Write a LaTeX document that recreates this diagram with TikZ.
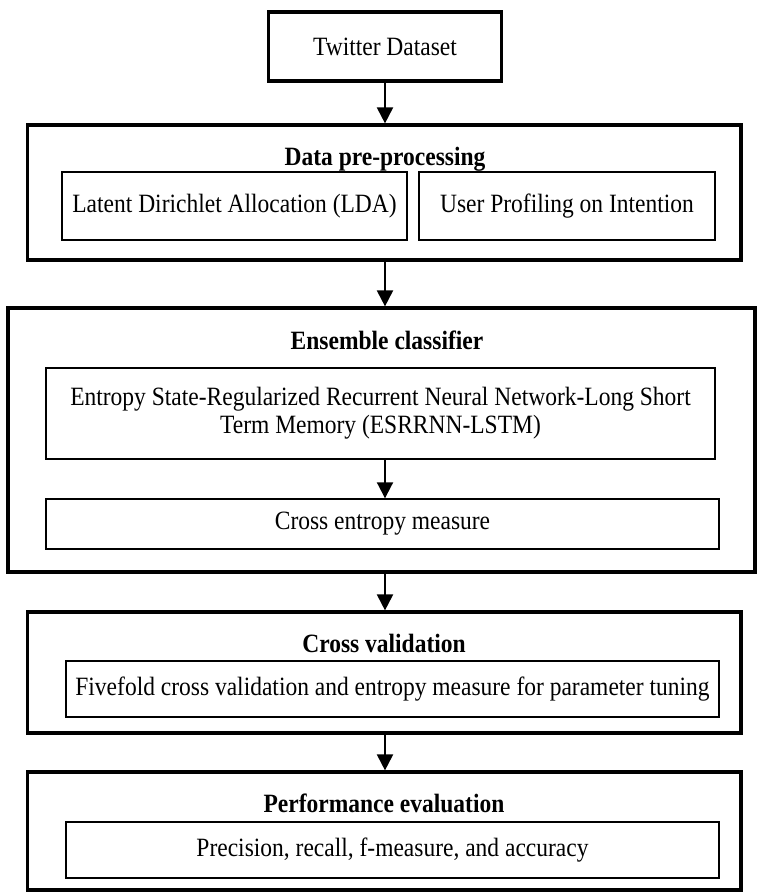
\documentclass[tikz,border=0pt]{standalone}
\usepackage{fontspec}
\setmainfont{Liberation Serif}[FakeStretch=0.89]
\usepackage{tikz}
\usetikzlibrary{calc,arrows.meta}
\definecolor{ink}{HTML}{000000}
\definecolor{bg}{HTML}{FFFFFF}
\tikzset{
  outerbox/.style={draw=ink, line width=3.2pt, inner sep=0pt},
  innerbox/.style={draw=ink, line width=1.4pt, inner sep=0pt, align=center, font=\fontsize{26.4}{28}\selectfont},
  headlab/.style={text=ink, inner sep=0pt, font=\bfseries\fontsize{26.4}{28}\selectfont},
  flow/.style={draw=ink, line width=2pt, -{Triangle[length=16pt,width=16pt]}},
}

\begin{document}
\begin{tikzpicture}[x=1pt,y=-1pt]
  \useasboundingbox[fill=bg] (0,0) rectangle (756,892);
  % source
  \node[outerbox, minimum width=233pt, minimum height=69pt, font=\fontsize{26.4}{28}\selectfont] (tw) at (385,46.5) {Twitter Dataset};
  % pre-processing
  \node[outerbox, minimum width=713.5pt, minimum height=135pt] (pre) at (384.25,192.5) {};
  \node[headlab] (preh) at (385,159) {Data pre-processing};
  \node[innerbox, minimum width=345pt, minimum height=68pt] (lda) at (234.5,206) {Latent Dirichlet Allocation (LDA)};
  \node[innerbox, minimum width=296pt, minimum height=68pt] (upi) at (567,206) {User Profiling on Intention};
  % ensemble
  \node[outerbox, minimum width=747pt, minimum height=264pt] (ens) at (381.5,440) {};
  \node[headlab] (ensh) at (387,340) {Ensemble classifier};
  \node[innerbox, minimum width=669pt, minimum height=91pt] (rnn) at (380.5,413.5) {Entropy State-Regularized Recurrent Neural Network-Long Short\\Term Memory (ESRRNN-LSTM)};
  \node[innerbox, minimum width=673pt, minimum height=50pt] (cem) at (382.5,524) {Cross entropy measure};
  % cross validation
  \node[outerbox, minimum width=713.5pt, minimum height=121pt] (cv) at (384.25,672.5) {};
  \node[headlab] (cvh) at (384,643) {Cross validation};
  \node[innerbox, minimum width=653pt, minimum height=56pt] (ffc) at (392.5,689) {Fivefold cross validation and entropy measure for parameter tuning};
  % evaluation
  \node[outerbox, minimum width=713.5pt, minimum height=118pt] (pe) at (384.25,831) {};
  \node[headlab] (peh) at (384,803) {Performance evaluation};
  \node[innerbox, minimum width=653pt, minimum height=56pt] (prf) at (392.5,850) {Precision, recall, f-measure, and accuracy};

  \draw[flow] (tw.south) -- (tw.south |- pre.north);
  \draw[flow] (tw.south |- pre.south) -- (tw.south |- ens.north);
  \draw[flow] (rnn.south -| tw.south) -- (tw.south |- cem.north);
  \draw[flow] (tw.south |- ens.south) -- (tw.south |- cv.north);
  \draw[flow] (tw.south |- cv.south) -- (tw.south |- pe.north);
\end{tikzpicture}
\end{document}
